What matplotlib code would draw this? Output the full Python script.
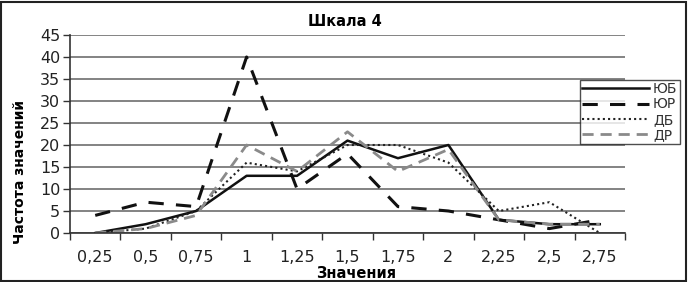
import numpy as np
import matplotlib
matplotlib.use('Agg')
import matplotlib.pyplot as plt
from matplotlib.patches import Rectangle

plt.rcParams['font.family'] = ['DejaVu Sans']

# Data
categories = ['0,25', '0,5', '0,75', '1', '1,25', '1,5', '1,75', '2', '2,25', '2,5', '2,75']
yub = [0, 2, 5, 13, 13, 21, 17, 20, 3, 2, 2]
yur = [4, 7, 6, 40, 10, 18, 6, 5, 3, 1, 3]
db = [0, 1, 5, 16, 14, 20, 20, 16, 5, 7, 0]
dr = [0, 1, 4, 20, 14, 23, 14, 19, 3, 2, 2]

fig = plt.figure(figsize=(6.89, 2.82), dpi=100)
ax = fig.add_axes([70 / 689, 1 - 233 / 282, 555 / 689, 198 / 282])

x = np.arange(len(categories))
ax.plot(x, yub, color='#111111', lw=1.8, label='ЮБ')
ax.plot(x, yur, color='#111111', lw=2.2, dashes=(5, 4), label='ЮР')
ax.plot(x, db, color='#222222', lw=1.5, ls=(0, (1, 1.5)), label='ДБ')
ax.plot(x, dr, color='#8a8a8a', lw=2.0, dashes=(4, 2.5), label='ДР')

ax.set_xlim(-0.5, len(categories) - 0.5)
ax.set_ylim(0, 45)
ax.set_yticks(range(0, 46, 5))
ax.set_xticks(x)
ax.set_xticklabels(categories)
ax.set_xticks(np.arange(-0.5, len(categories), 1), minor=True)
ax.tick_params(axis='x', which='major', length=0, pad=12, labelsize=11.5, labelcolor='#222222')
ax.tick_params(axis='x', which='minor', length=5, width=1, color='#333333')
ax.tick_params(axis='y', length=5, width=1, color='#333333', labelsize=11.5, pad=2,
               labelcolor='#222222')

ax.grid(axis='y', color='#7a7a7a', lw=1.3)
ax.set_axisbelow(True)
for side in ['top', 'right']:
    ax.spines[side].set_visible(False)
ax.spines['left'].set_color('#333333')
ax.spines['bottom'].set_color('#333333')
ax.spines['left'].set_linewidth(1.2)
ax.spines['bottom'].set_linewidth(1.2)

fig.text(345 / 689, 1 - 21 / 282, 'Шкала 4', ha='center', va='center', fontsize=10.5, fontweight='bold')
fig.text(356 / 689, 1 - 273 / 282, 'Значения', ha='center', va='center', fontsize=10.5, fontweight='bold')
fig.text(20 / 689, 1 - 172 / 282, 'Частота значений', ha='center', va='center', rotation=90,
         fontsize=10, fontweight='bold')

leg = ax.legend(loc='upper left', bbox_to_anchor=(580 / 689, 1 - 80 / 282), bbox_transform=fig.transFigure,
                frameon=True, fancybox=False, edgecolor='#222222', fontsize=10, handlelength=4.8,
                borderpad=0.15, labelspacing=0.1, handletextpad=0.3, borderaxespad=0)
leg.get_frame().set_linewidth(1.0)
for t in leg.get_texts():
    t.set_color('#333333')

fig.patches.append(Rectangle((0.002, 0.004), 0.994, 0.99, transform=fig.transFigure,
                             fill=False, edgecolor='#222222', lw=1.5))

fig.savefig('out.png', dpi=100)
